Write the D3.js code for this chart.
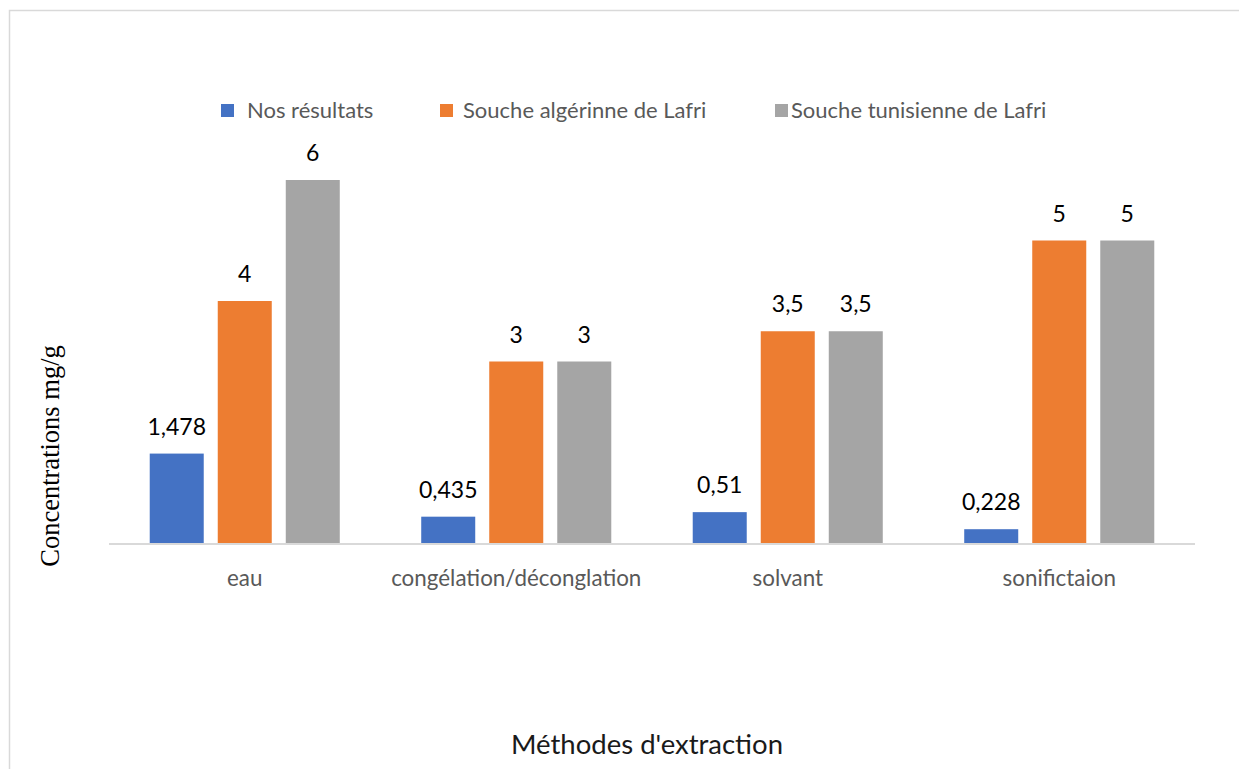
<!DOCTYPE html>
<html>
<head>
<meta charset="utf-8">
<script src="https://cdn.jsdelivr.net/npm/d3@7"></script>
<style>
  html, body { margin: 0; padding: 0; background: #fff; }
  svg { display: block; }
</style>
</head>
<body>
<svg id="chart" width="1239" height="769"></svg>
<script>
// Extraction methods and the three series compared (mg/g)
const categories = ["eau", "congélation/déconglation", "solvant", "sonifictaion"];
const seriesNames = ["Nos résultats", "Souche algérinne de Lafri", "Souche tunisienne de Lafri"];
const nosResultats = [1.478, 0.435, 0.51, 0.228];
const soucheAlgerienne = [4, 3, 3.5, 5];
const soucheTunisienne = [6, 3, 3.5, 5];
const valueLabels = [
  ["1,478", "0,435", "0,51", "0,228"],
  ["4", "3", "3,5", "5"],
  ["6", "3", "3,5", "5"]
];
const colors = ["#4472C4", "#ED7D31", "#A5A5A5"];
const yTitle = "Concentrations mg/g";
const xTitle = "Méthodes d'extraction";

const seriesValues = [nosResultats, soucheAlgerienne, soucheTunisienne];
const rows = categories.map((c, i) => ({
  cat: c,
  vals: seriesValues.map((s, k) => ({ key: seriesNames[k], k, v: s[i], label: valueLabels[k][i] }))
}));

const svg = d3.select("#chart");
const sans = "Lato, 'Open Sans', sans-serif";

// Chart frame
svg.append("rect")
  .attr("x", 9.5).attr("y", 10.5)
  .attr("width", 1300).attr("height", 800)
  .attr("fill", "#fff").attr("stroke", "#d9d9d9").attr("stroke-width", 1.5);

const plot = { left: 109, right: 1195, top: 180, bottom: 543 };

const x0 = d3.scaleBand()
  .domain(categories)
  .range([plot.left, plot.right])
  .paddingInner(0.3)
  .paddingOuter(0.15);

const x1 = d3.scaleBand()
  .domain(seriesNames)
  .range([0, x0.bandwidth()])
  .paddingInner(0.206)
  .paddingOuter(0);

const y = d3.scaleLinear()
  .domain([0, 6])
  .range([plot.bottom, plot.top]);

// Bars
const groups = svg.append("g").selectAll("g")
  .data(rows).join("g")
  .attr("transform", d => `translate(${x0(d.cat)},0)`);

groups.selectAll("rect")
  .data(d => d.vals).join("rect")
  .attr("x", d => x1(d.key))
  .attr("y", d => y(d.v))
  .attr("width", x1.bandwidth())
  .attr("height", d => y(0) - y(d.v))
  .attr("fill", d => colors[d.k]);

// Value labels
groups.selectAll("text")
  .data(d => d.vals).join("text")
  .attr("x", d => x1(d.key) + x1.bandwidth() / 2)
  .attr("y", d => y(d.v) - 19)
  .attr("text-anchor", "middle")
  .attr("font-family", sans)
  .attr("font-size", 23)
  .attr("fill", "#000")
  .text(d => d.label);

// Category axis
const xAxis = svg.append("g")
  .attr("transform", `translate(0,${plot.bottom})`)
  .call(d3.axisBottom(x0).tickSize(0).tickPadding(0).tickSizeOuter(0));
xAxis.select(".domain")
  .attr("stroke", "#d9d9d9").attr("stroke-width", 2)
  .attr("d", `M${plot.left},1H${plot.right}`);
xAxis.selectAll(".tick text")
  .attr("font-family", sans)
  .attr("font-size", 22.4)
  .attr("fill", "#595959")
  .attr("dy", null)
  .attr("y", 43);

// Axis titles
svg.append("text")
  .attr("transform", "translate(59,456) rotate(-90)")
  .attr("text-anchor", "middle")
  .attr("font-family", "'Liberation Serif', 'Times New Roman', serif")
  .attr("font-size", 26.5)
  .attr("fill", "#000")
  .text(yTitle);

svg.append("text")
  .attr("x", 647).attr("y", 754)
  .attr("text-anchor", "middle")
  .attr("font-family", sans)
  .attr("font-size", 27.5)
  .attr("fill", "#1a1a1a")
  .text(xTitle);

// Legend
const legendX = [221, 440, 775];
const legendTextDx = [26, 23, 16];
const legend = svg.append("g").selectAll("g")
  .data(seriesNames).join("g")
  .attr("transform", (d, i) => `translate(${legendX[i]},104)`);
legend.append("rect")
  .attr("width", 13).attr("height", 13)
  .attr("fill", (d, i) => colors[i]);
legend.append("text")
  .attr("x", (d, i) => legendTextDx[i])
  .attr("y", 14)
  .attr("font-family", sans)
  .attr("font-size", 22)
  .attr("fill", "#595959")
  .text(d => d);
</script>
</body>
</html>
